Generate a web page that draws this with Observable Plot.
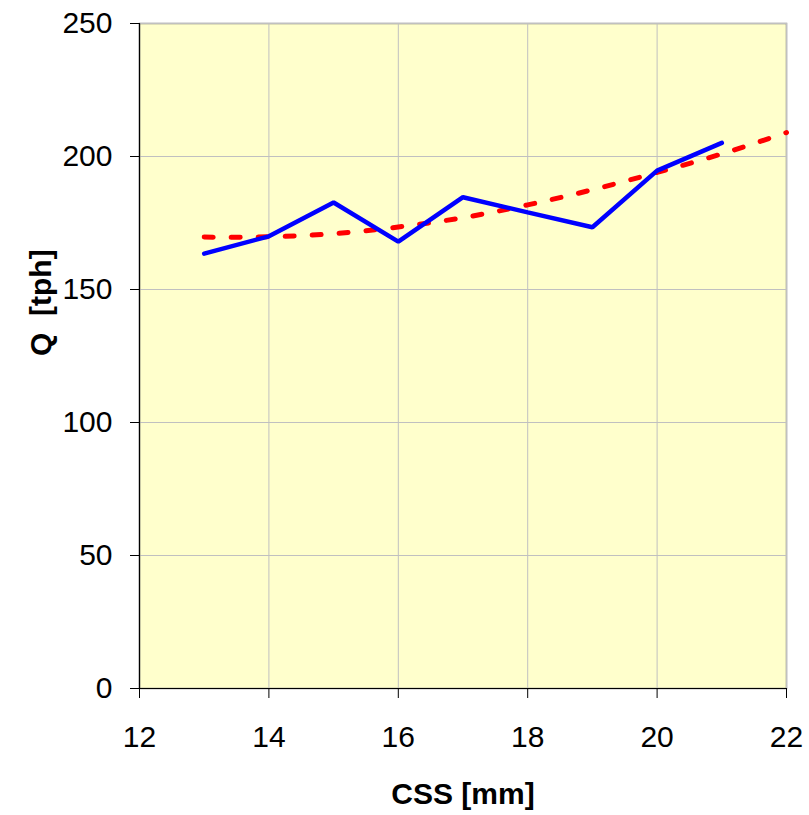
<!DOCTYPE html>
<html>
<head>
<meta charset="utf-8">
<script src="https://cdn.jsdelivr.net/npm/d3@7"></script>
<script src="https://cdn.jsdelivr.net/npm/@observablehq/plot@0.6"></script>
<style>
  html, body { margin: 0; padding: 0; background: #ffffff; }
</style>
</head>
<body>
<div id="chart"></div>
<script>
// Measured series (blue solid line)
const cssMeasured = [13, 14, 15, 16, 17, 18, 19, 20, 21];
const qMeasured   = [163.5, 170, 182.7, 168, 184.7, 179, 173.4, 194.7, 205.1];

// Trend series (red dashed line)
const cssTrend = [13, 14, 15, 16, 17, 18, 19, 20, 21, 22];
const qTrend   = [169.7, 169.8, 171, 173.5, 177, 181.8, 187.5, 194, 201, 209];

// Axis ticks and labels
const xTicks = [12, 14, 16, 18, 20, 22];
const yTicks = [0, 50, 100, 150, 200, 250];
const xLabel = "CSS [mm]";
const yLabel = "Q\u00a0\u00a0[tph]";

const measured = cssMeasured.map((x, i) => ({x, y: qMeasured[i]}));
const trend = cssTrend.map((x, i) => ({x, y: qTrend[i]}));

const FONT = "'Liberation Sans', Arial, sans-serif";

const chart = Plot.plot({
  width: 809,
  height: 815,
  marginLeft: 139,
  marginRight: 23,
  marginTop: 23,
  marginBottom: 127,
  style: {fontFamily: FONT, fontSize: "30px", color: "#000", background: "#ffffff"},
  x: {domain: [12, 22]},
  y: {domain: [0, 250]},
  marks: [
    Plot.frame({fill: "#FFFFCC", stroke: "#808080", strokeWidth: 1.5}),
    Plot.ruleX(xTicks, {stroke: "#C0C0C0", strokeWidth: 1}),
    Plot.ruleY(yTicks, {stroke: "#C0C0C0", strokeWidth: 1}),
    Plot.ruleX([12], {stroke: "#000", strokeWidth: 1.2}),
    Plot.ruleY([0], {stroke: "#000", strokeWidth: 1.2}),
    Plot.axisY({ticks: yTicks, tickSize: 9, tickPadding: 18, fontSize: 30, label: null, stroke: "#000"}),
    Plot.axisX({ticks: xTicks, tickSize: 10, tickPadding: 27, fontSize: 30, label: null, stroke: "#000"}),
    Plot.line(trend, {x: "x", y: "y", stroke: "#FF0000", strokeWidth: 5, strokeDasharray: "9,18", curve: "natural"}),
    Plot.line(measured, {x: "x", y: "y", stroke: "#0000FF", strokeWidth: 4.5, strokeLinejoin: "miter", strokeLinecap: "round"}),
    Plot.text([xLabel], {frameAnchor: "bottom", dy: 115, fontSize: 30, fontWeight: "bold", fill: "#000"}),
    Plot.text([yLabel], {frameAnchor: "left", dx: -98, rotate: -90, fontSize: 30, fontWeight: "bold", fill: "#000"})
  ]
});
document.getElementById("chart").appendChild(chart);
</script>
</body>
</html>
